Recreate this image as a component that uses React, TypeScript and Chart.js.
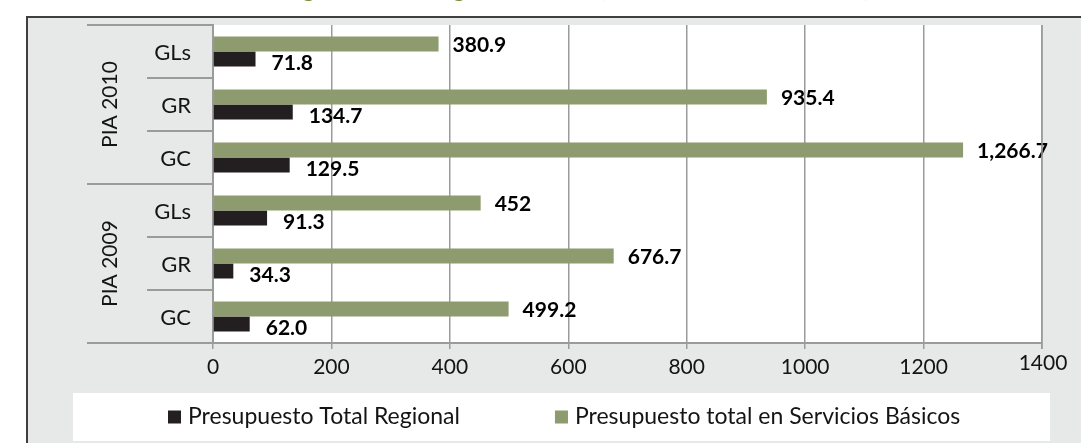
import { useEffect, useRef } from 'react';
import { Chart, registerables } from 'chart.js';

Chart.register(...registerables);

// ---- data ----
const categories = ['GLs', 'GR', 'GC', 'GLs', 'GR', 'GC'];
const groups = ['PIA 2010', 'PIA 2009'];
const groupSize = 3;
const serviciosBasicos = [380.9, 935.4, 1266.7, 452, 676.7, 499.2];
const totalRegional = [71.8, 134.7, 129.5, 91.3, 34.3, 62.0];
const serviciosLabels = ['380.9', '935.4', '1,266.7', '452', '676.7', '499.2'];
const regionalLabels = ['71.8', '134.7', '129.5', '91.3', '34.3', '62.0'];
const seriesNames = ['Presupuesto total en Servicios Básicos', 'Presupuesto Total Regional'];
const xMax = 1400;
const xStep = 200;
const titleText = 'Asignación total Regional vs. SSBB (en millones de nuevos soles)';

// ---- styles ----
const GREEN = '#8e9b6e';
const DARK = '#231f20';
const BG = '#e7e8e8';
const GRID = '#9b9b9b';
const FRAME = '#3f3f3f';
const TEXT = '#141414';
const TITLE = '#77933c';
const FONT = 'Lato';

const decoPlugin = {
  id: 'deco',
  beforeDraw(chart: any) {
    const { ctx, chartArea } = chart;
    ctx.save();
    ctx.fillStyle = '#ffffff';
    ctx.fillRect(0, 0, chart.width, chart.height);
    // title (mostly cut off above the frame)
    ctx.font = `bold 21px ${FONT}`;
    ctx.fillStyle = TITLE;
    ctx.textBaseline = 'alphabetic';
    ctx.textAlign = 'left';
    const pre = ctx.measureText('Asi').width;
    ctx.fillText(titleText, 303 - pre, -3);
    // frame
    ctx.fillStyle = BG;
    ctx.fillRect(27, 17, chart.width - 27, chart.height - 17);
    ctx.strokeStyle = FRAME;
    ctx.lineWidth = 2;
    ctx.beginPath();
    ctx.moveTo(27, chart.height);
    ctx.lineTo(27, 17);
    ctx.lineTo(chart.width, 17);
    ctx.stroke();
    // plot area
    ctx.fillStyle = '#ffffff';
    ctx.fillRect(chartArea.left, chartArea.top, chartArea.right - chartArea.left, chartArea.bottom - chartArea.top);
    // legend box
    ctx.fillRect(73, 393, 977, 48);
    ctx.restore();
  },
  afterDraw(chart: any) {
    const { ctx, chartArea } = chart;
    const xs = chart.scales.x;
    const ys = chart.scales.y;
    ctx.save();
    // data labels
    ctx.font = `bold 21px ${FONT}`;
    ctx.fillStyle = '#000000';
    ctx.textAlign = 'left';
    ctx.textBaseline = 'middle';
    const m0 = chart.getDatasetMeta(0);
    m0.data.forEach((el: any, i: number) => {
      ctx.fillText(serviciosLabels[i], el.x + 14, el.y + 1);
    });
    const m1 = chart.getDatasetMeta(1);
    m1.data.forEach((el: any, i: number) => {
      ctx.fillText(regionalLabels[i], el.x + 16, el.y + 4);
    });
    // right edge gridline over labels
    const xr = xs.getPixelForValue(xMax);
    ctx.strokeStyle = GRID;
    ctx.lineWidth = 1.5;
    ctx.beginPath();
    ctx.moveTo(xr, chartArea.top);
    ctx.lineTo(xr, chartArea.bottom + 6);
    ctx.stroke();
    // 1400 tick label (raised)
    ctx.font = `21px ${FONT}`;
    ctx.fillStyle = TEXT;
    ctx.textAlign = 'center';
    ctx.textBaseline = 'middle';
    ctx.fillText(String(xMax), xr + 1, 363);

    // hierarchical category axis
    const n = categories.length;
    const step = (ys.bottom - ys.top) / n;
    ctx.strokeStyle = GRID;
    ctx.lineWidth = 2;
    for (let i = 0; i <= n; i++) {
      const y = ys.top + i * step;
      const x0 = i % groupSize === 0 ? 87 : 147;
      ctx.beginPath();
      ctx.moveTo(x0, y);
      ctx.lineTo(chartArea.left, y);
      ctx.stroke();
    }
    ctx.font = `22px ${FONT}`;
    ctx.fillStyle = TEXT;
    ctx.textAlign = 'right';
    ctx.textBaseline = 'middle';
    categories.forEach((c, i) => {
      ctx.fillText(c, 191, ys.getPixelForValue(i) + 1);
    });
    ctx.font = `21px ${FONT}`;
    groups.forEach((g, gi) => {
      const yc = ys.top + (gi * groupSize + groupSize / 2) * step;
      ctx.save();
      ctx.translate(110, yc);
      ctx.rotate(-Math.PI / 2);
      ctx.textAlign = 'center';
      ctx.textBaseline = 'middle';
      ctx.fillText(g, 0, 0);
      ctx.restore();
    });

    // legend (reverse order: Regional first)
    ctx.font = `23px ${FONT}`;
    ctx.textAlign = 'left';
    ctx.textBaseline = 'middle';
    let lx = 168;
    const ly = 417;
    const order = [1, 0];
    order.forEach((di) => {
      const ds = chart.data.datasets[di];
      ctx.fillStyle = ds.backgroundColor;
      ctx.fillRect(lx, ly - 6.5, 13, 13);
      ctx.fillStyle = TEXT;
      ctx.fillText(ds.label, lx + 20, ly);
      lx += 20 + ctx.measureText(ds.label).width + 95;
    });
    ctx.restore();
  },
};

export default function App() {
  const ref = useRef<HTMLCanvasElement>(null);
  useEffect(() => {
    document.body.style.margin = '0';
    const canvas = ref.current!;
    const chart = new Chart(canvas, {
      type: 'bar',
      data: {
        labels: categories,
        datasets: [
          {
            label: seriesNames[0],
            data: serviciosBasicos,
            backgroundColor: GREEN,
            categoryPercentage: 0.566,
            barPercentage: 1,
          },
          {
            label: seriesNames[1],
            data: totalRegional,
            backgroundColor: DARK,
            categoryPercentage: 0.566,
            barPercentage: 1,
          },
        ],
      },
      options: {
        indexAxis: 'y',
        animation: false,
        responsive: false,
        devicePixelRatio: 1,
        layout: { padding: { top: 25, right: 39, left: 0, bottom: 0 } },
        plugins: {
          legend: { display: false },
          tooltip: { enabled: false },
          title: { display: false },
        },
        scales: {
          x: {
            min: 0,
            max: xMax,
            ticks: {
              stepSize: xStep,
              font: { family: FONT, size: 21 },
              color: TEXT,
              padding: 6,
              maxRotation: 0,
              autoSkip: false,
              callback: (v: any) => (Number(v) === xMax ? '' : String(v)),
            },
            grid: { color: GRID, lineWidth: 1.5, tickLength: 6, drawTicks: true },
            border: { display: true, color: GRID, width: 2 },
            afterFit: (s: any) => {
              s.height = 100;
            },
          },
          y: {
            type: 'category',
            ticks: { display: false },
            grid: { display: false, drawTicks: false },
            border: { display: true, color: GRID, width: 2 },
            afterFit: (s: any) => {
              s.width = 213;
            },
          },
        },
      },
      plugins: [decoPlugin],
    } as any);
    return () => chart.destroy();
  }, []);
  return (
    <canvas
      ref={ref}
      width={1081}
      height={443}
      style={{ display: 'block', width: '1081px', height: '443px' }}
    />
  );
}
